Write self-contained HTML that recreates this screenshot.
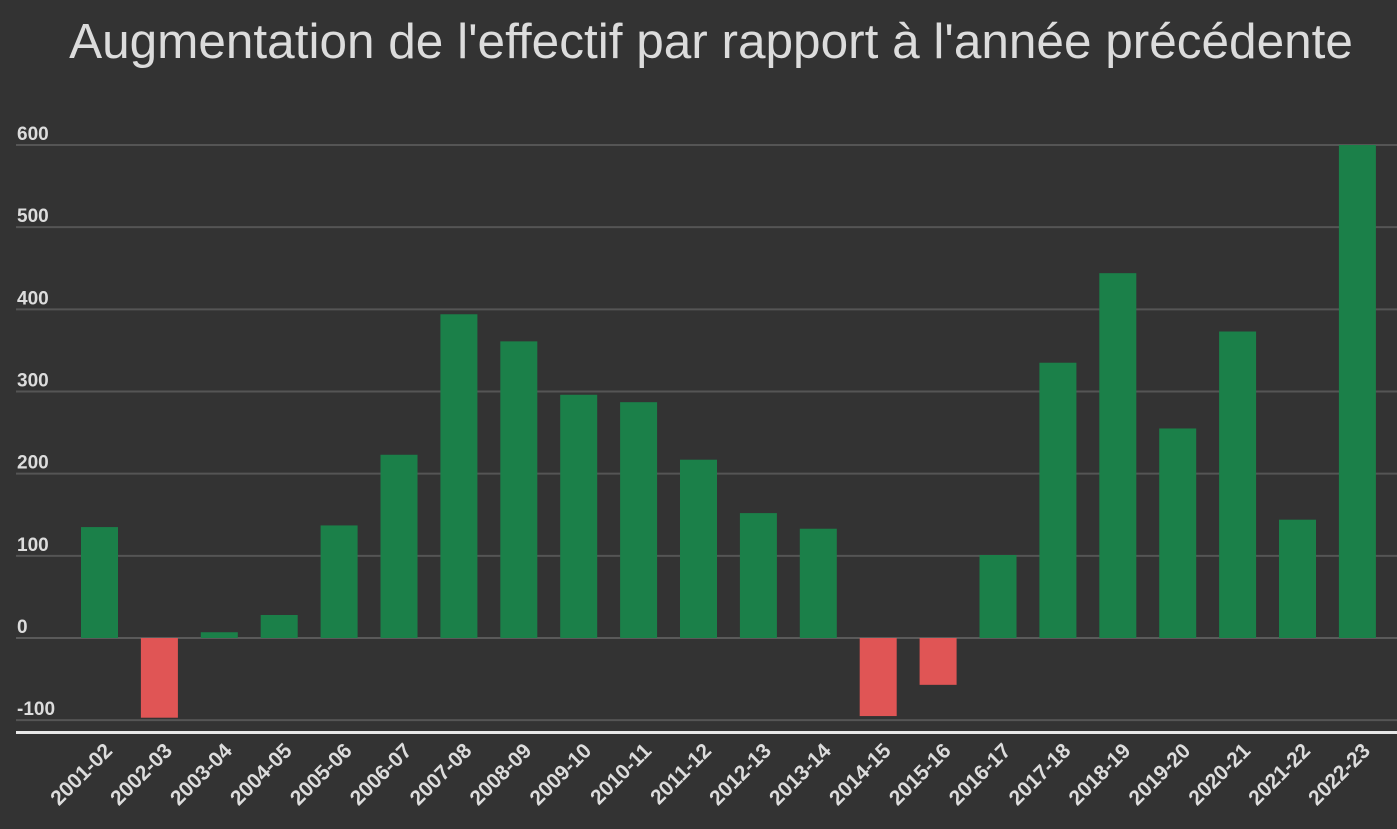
<!DOCTYPE html>
<html><head><meta charset="utf-8"><style>
html,body{margin:0;padding:0;background:#333333;}
svg{display:block;font-family:"Liberation Sans",sans-serif;}
</style></head><body>
<svg id="chart" width="1397" height="829" viewBox="0 0 1397 829">
<rect width="1397" height="829" fill="#333333"/>
<text x="711" y="58" text-anchor="middle" font-size="49.5" fill="#dcdcdc">Augmentation de l'effectif par rapport à l'année précédente</text>
<g id="grid"></g><g id="bars"></g><g id="xlabels"></g>
<rect x="16" y="731" width="1381" height="3" fill="#e8e8e8"/>
</svg>
<script>
const categories=["2001-02","2002-03","2003-04","2004-05","2005-06","2006-07","2007-08","2008-09","2009-10","2010-11","2011-12","2012-13","2013-14","2014-15","2015-16","2016-17","2017-18","2018-19","2019-20","2020-21","2021-22","2022-23"];
const values=[135,-97,7,28,137,223,394,361,296,287,217,152,133,-95,-57,101,335,444,255,373,144,600];
const yTicks=[600,500,400,300,200,100,0,-100];
const NS="http://www.w3.org/2000/svg";
function y(v){return 638-v*0.8217;}
function xc(i){return 99.5+i*59.9;}
const grid=document.getElementById('grid'),bars=document.getElementById('bars'),xl=document.getElementById('xlabels');
yTicks.forEach(t=>{
  const l=document.createElementNS(NS,'line');
  l.setAttribute('x1',16);l.setAttribute('x2',1397);l.setAttribute('y1',y(t));l.setAttribute('y2',y(t));
  l.setAttribute('stroke',t===0?'#5a5a5a':'#555555');l.setAttribute('stroke-width',2);
  
  
  grid.appendChild(l);
  const tx=document.createElementNS(NS,'text');
  tx.setAttribute('x',17);tx.setAttribute('y',y(t)-5);
  tx.setAttribute('font-size',19);tx.setAttribute('font-weight','bold');tx.setAttribute('fill','#dcdcdc');
  tx.textContent=t;
  
  
  grid.appendChild(tx);
});
categories.forEach((c,i)=>{
  const v=values[i];
  const r=document.createElementNS(NS,'rect');
  const top=Math.min(y(v),y(0)), h=Math.abs(y(v)-y(0));
  r.setAttribute('x',xc(i)-18.5);r.setAttribute('width',37);r.setAttribute('y',top);r.setAttribute('height',Math.max(h,1));
  r.setAttribute('fill',v>=0?'#1b8049':'#e05555');
  
  
  bars.appendChild(r);
  const t=document.createElementNS(NS,'text');
  const lx=xc(i)+14, ly=752;
  t.setAttribute('x',lx);t.setAttribute('y',ly);t.setAttribute('text-anchor','end');
  t.setAttribute('transform','rotate(-45 '+lx+' '+ly+')');
  t.setAttribute('font-size',21);t.setAttribute('font-weight','bold');t.setAttribute('fill','#dcdcdc');
  t.textContent=c;
  
  
  xl.appendChild(t);
});
</script>
</body></html>
